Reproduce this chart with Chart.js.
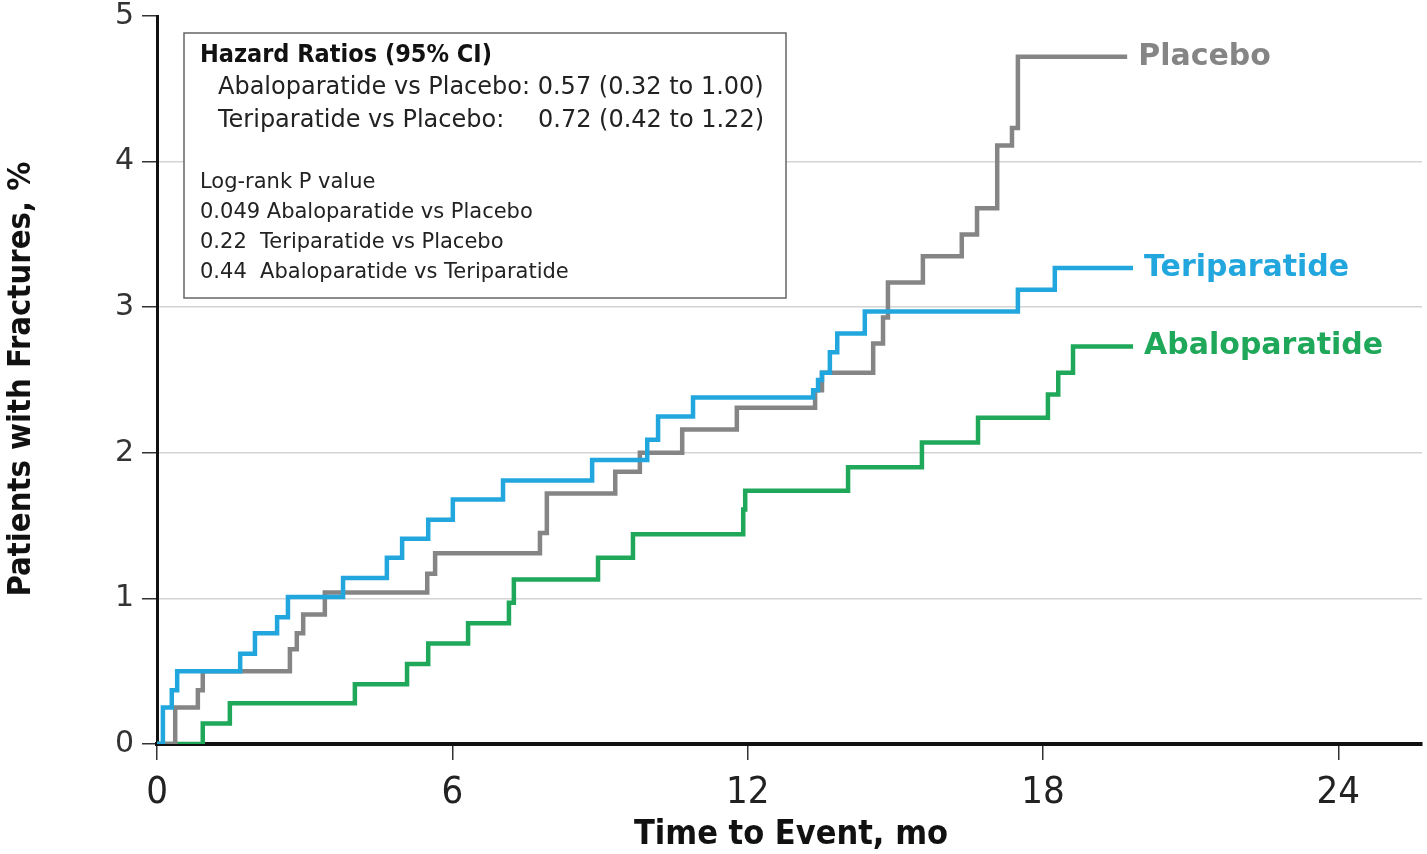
<!DOCTYPE html>
<html>
<head>
<meta charset="utf-8">
<script src="https://cdn.jsdelivr.net/npm/chart.js@4"></script>
<style>
  html, body { margin: 0; padding: 0; background: #fff; }
  #wrap { width: 1427px; height: 854px; }
</style>
</head>
<body>
<div id="wrap"><canvas id="grafico" width="1427" height="854"></canvas></div>
<script>
// --- datos (meses, % con fracturas) ---
const placeboT = [0, 0.37, 0.83, 0.93, 2.70, 2.84, 2.97, 3.41, 5.49, 5.65, 7.78, 7.92, 9.31, 9.81, 10.67, 11.78, 13.37, 13.51, 14.55, 14.75, 14.85, 15.56, 16.35, 16.66, 17.07, 17.37, 17.49, 19.71];
const placeboY = [0, 0.25, 0.37, 0.50, 0.65, 0.76, 0.89, 1.04, 1.17, 1.31, 1.45, 1.72, 1.87, 2.00, 2.16, 2.31, 2.43, 2.55, 2.75, 2.93, 3.17, 3.35, 3.50, 3.68, 4.11, 4.23, 4.72, 4.72];

const teriT = [0, 0.12, 0.30, 0.41, 1.69, 1.99, 2.44, 2.66, 3.78, 4.67, 4.98, 5.51, 6.01, 7.03, 8.84, 9.96, 10.18, 10.89, 13.33, 13.43, 13.51, 13.67, 13.82, 14.38, 17.49, 18.24, 19.83];
const teriY = [0, 0.25, 0.37, 0.50, 0.62, 0.76, 0.87, 1.01, 1.14, 1.28, 1.41, 1.54, 1.68, 1.81, 1.95, 2.09, 2.25, 2.38, 2.43, 2.50, 2.55, 2.69, 2.82, 2.97, 3.12, 3.27, 3.27];

const abaloT = [0, 0.93, 1.48, 4.02, 5.08, 5.51, 6.32, 7.15, 7.25, 8.96, 9.67, 11.91, 11.95, 14.04, 15.54, 16.68, 18.10, 18.31, 18.61, 19.83];
const abaloY = [0, 0.14, 0.28, 0.41, 0.55, 0.69, 0.83, 0.97, 1.13, 1.28, 1.44, 1.61, 1.74, 1.90, 2.07, 2.24, 2.40, 2.55, 2.73, 2.73];

const xTicks = [0, 6, 12, 18, 24];
const yTicks = [0, 1, 2, 3, 4, 5];

const hazardLines = [
  "Abaloparatide vs Placebo: 0.57 (0.32 to 1.00)",
  "Teriparatide vs Placebo:"
];
const hazardTeriValue = "0.72 (0.42 to 1.22)";
const logRankLines = [
  "Log-rank P value",
  "0.049 Abaloparatide vs Placebo",
  "0.22  Teriparatide vs Placebo",
  "0.44  Abaloparatide vs Teriparatide"
];

const toPoints = (t, y) => t.map((v, i) => ({ x: v, y: y[i] }));

// --- etiquetas al final de cada curva ---
const endLabels = {
  id: "endLabels",
  afterDatasetsDraw(chart) {
    const ctx = chart.ctx;
    chart.data.datasets.forEach((ds, i) => {
      const pts = chart.getDatasetMeta(i).data;
      const last = pts[pts.length - 1];
      ctx.save();
      ctx.font = "bold 30px 'DejaVu Sans'";
      ctx.fillStyle = ds.borderColor;
      ctx.textBaseline = "middle";
      ctx.fillText(ds.label, last.x + 11, last.y);
      ctx.restore();
    });
  }
};

// --- cuadro de hazard ratios + titulos de ejes ---
const anotaciones = {
  id: "anotaciones",
  afterDraw(chart) {
    const ctx = chart.ctx;
    ctx.save();
    ctx.fillStyle = "#fff";
    ctx.fillRect(184, 33, 602, 265);
    ctx.strokeStyle = "#666";
    ctx.lineWidth = 1.5;
    ctx.strokeRect(184, 33, 602, 265);

    ctx.fillStyle = "#111";
    ctx.textBaseline = "middle";
    ctx.font = "bold 25px 'DejaVu Sans Condensed', 'DejaVu Sans'";
    ctx.fillText("Hazard Ratios (95% CI)", 200, 55);
    ctx.fillStyle = "#222";
    ctx.font = "24px 'DejaVu Sans'";
    ctx.fillText(hazardLines[0], 218, 88);
    ctx.fillText(hazardLines[1], 218, 121);
    ctx.fillText(hazardTeriValue, 538, 121);

    ctx.font = "21px 'DejaVu Sans'";
    logRankLines.forEach((l, i) => ctx.fillText(l, 200, 183 + i * 30));

    // titulo eje X
    ctx.fillStyle = "#111";
    ctx.font = "bold 34px 'Liberation Sans Narrow', 'DejaVu Sans Condensed', sans-serif";
    ctx.textAlign = "center";
    ctx.fillText("Time to Event, mo", 791, 835);

    // titulo eje Y
    ctx.translate(22, 379);
    ctx.rotate(-Math.PI / 2);
    ctx.font = "bold 32.5px 'Liberation Sans Narrow', 'DejaVu Sans Condensed', sans-serif";
    ctx.fillText("Patients with Fractures, %", 0, 0);
    ctx.restore();
  }
};

const ctx = document.getElementById("grafico").getContext("2d");

new Chart(ctx, {
  type: "line",
  data: {
    datasets: [
      {
        label: "Teriparatide",
        data: toPoints(teriT, teriY),
        borderColor: "#22a6de",
        borderWidth: 4.5,
        stepped: "before",
        pointRadius: 0,
        fill: false
      },
      {
        label: "Placebo",
        data: toPoints(placeboT, placeboY),
        borderColor: "#858585",
        borderWidth: 4.5,
        stepped: "before",
        pointRadius: 0,
        fill: false
      },
      {
        label: "Abaloparatide",
        data: toPoints(abaloT, abaloY),
        borderColor: "#1fa85a",
        borderWidth: 4.5,
        stepped: "before",
        pointRadius: 0,
        fill: false
      }
    ]
  },
  options: {
    responsive: false,
    animation: false,
    layout: { padding: { top: 0, right: 5, left: 0, bottom: 0 } },
    plugins: {
      legend: { display: false },
      tooltip: { enabled: false }
    },
    scales: {
      x: {
        type: "linear",
        min: 0,
        max: 25.7,
        afterBuildTicks: s => { s.ticks = xTicks.map(v => ({ value: v })); },
        afterFit: s => { s.height = 110; },
        border: { color: "#111", width: 4 },
        grid: { drawOnChartArea: false, drawTicks: true, tickLength: 16, tickColor: "#333", lineWidth: 1.5 },
        ticks: {
          color: "#222",
          padding: 10,
          maxRotation: 0,
          font: { family: "'Liberation Sans Narrow', 'DejaVu Sans Condensed', sans-serif", size: 38 }
        }
      },
      y: {
        min: 0,
        max: 5,
        afterBuildTicks: s => { s.ticks = yTicks.map(v => ({ value: v })); },
        afterFit: s => { s.width = 157; s.paddingTop = 16; s.paddingBottom = 0; },
        border: { color: "#111", width: 3 },
        grid: {
          color: c => (c.tick && (c.tick.value === 0 || c.tick.value === 5)) ? "rgba(0,0,0,0)" : "#d4d4d4",
          lineWidth: 1.5,
          tickLength: 15,
          tickColor: "#333"
        },
        ticks: {
          color: "#333",
          padding: 8,
          font: { family: "'DejaVu Sans'", size: 30 }
        }
      }
    }
  },
  plugins: [endLabels, anotaciones]
});
</script>
</body>
</html>
